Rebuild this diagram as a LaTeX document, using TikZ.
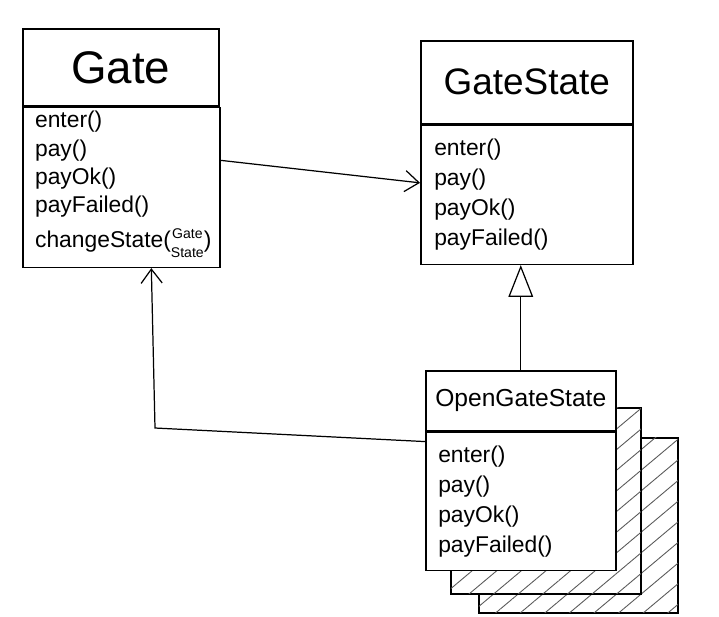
\documentclass[tikz,border=0pt]{standalone}
\usepackage{fontspec}
\setmainfont{Liberation Sans}
\usetikzlibrary{arrows.meta,positioning,calc,patterns.meta}

\begin{document}
\begin{tikzpicture}[x=0.02cm,y=-0.02cm,
    head/.style={draw, line width=0.9pt, fill=white, anchor=north west, inner sep=0pt},
    body/.style={draw, line width=0.9pt, fill=white, anchor=north west, align=left,
                 inner xsep=7pt, inner ysep=0pt},
    hatched/.style={draw, line width=0.9pt, fill=white, anchor=north west,
                    postaction={pattern={Lines[angle=40,distance=9pt,line width=0.5pt]},
                                pattern color=black!65}},
    assoc/.style={-{Straight Barb[length=8pt,width=12pt]}, line width=0.7pt},
    inherit/.style={-{Triangle[open,length=18pt,width=14pt,fill=white]}, line width=0.7pt}
  ]
    \fill[white] (0,0) rectangle (719,616);
    \useasboundingbox (0,0) rectangle (719,616);
    % Gate
    \node[head, minimum width=3.92cm, minimum height=1.54cm,
          font=\fontsize{26}{30}\selectfont] (gatehead) at (22,28) {Gate};
    \node[body, minimum width=3.92cm, minimum height=3.2cm, text width=3.45cm,
          font=\fontsize{13}{16}\selectfont] (gatebody) at (gatehead.south west)
      {enter()\\ pay()\\ payOk()\\ payFailed()\\[4pt]
       changeState({\fontsize{8}{11}\selectfont\begin{tabular}{@{}c@{}}Gate\\ State\end{tabular}})};
    % GateState
    \node[head, minimum width=4.24cm, minimum height=1.66cm,
          font=\fontsize{21}{24}\selectfont] (statehead) at (420,40) {GateState};
    \node[body, minimum width=4.24cm, minimum height=2.78cm, text width=3.7cm,
          font=\fontsize{13}{17}\selectfont] (statebody) at (statehead.south west)
      {enter()\\ pay()\\ payOk()\\ payFailed()};
    % OpenGateState with stacked copies behind
    \node[hatched, minimum width=3.98cm, minimum height=3.5cm] (back2) at (478,437) {};
    \node[hatched, minimum width=3.8cm, minimum height=3.72cm] (back1) at (450,407) {};
    \node[head, minimum width=3.8cm, minimum height=1.2cm,
          font=\fontsize{14}{16}\selectfont] (openhead) at (425,370) {OpenGateState};
    \node[body, minimum width=3.8cm, minimum height=2.76cm, text width=3.3cm,
          font=\fontsize{13}{17}\selectfont] (openbody) at (openhead.south west)
      {enter()\\ pay()\\ payOk()\\ payFailed()};
    % Gate holds its state
    \draw[assoc] ($(gatebody.east)+(0,-27)$) -- ($(statebody.west)+(0,-12)$);
    % OpenGateState is a GateState
    \draw[inherit] (openhead.north) -- (openhead.north |- statebody.south);
    % state changes the gate
    \draw[assoc] ($(openbody.north west)+(0,10)$) -- (155,428) -- ($(gatebody.south)+(30,0)$);
\end{tikzpicture}
\end{document}
